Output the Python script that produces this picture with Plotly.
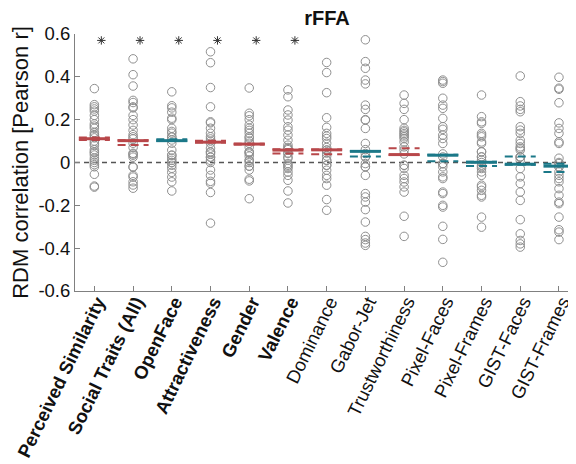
import plotly.graph_objects as go

categories = ["Perceived Similarity", "Social Traits (All)", "OpenFace", "Attractiveness",
              "Gender", "Valence", "Dominance", "Gabor-Jet", "Trustworthiness",
              "Pixel-Faces", "Pixel-Frames", "GIST-Faces", "GIST-Frames"]
bold = [1, 1, 1, 1, 1, 1, 0, 0, 0, 0, 0, 0, 0]
significant = [1, 1, 1, 1, 1, 1, 0, 0, 0, 0, 0, 0, 0]
color_group = ["r", "r", "t", "r", "r", "r", "r", "t", "r", "t", "t", "t", "t"]

mean_r = [0.111, 0.102, 0.102, 0.095, 0.086, 0.058, 0.059, 0.052, 0.037, 0.034, 0.001, -0.008, -0.017]
upper_r = [0.117, 0.104, 0.108, 0.102, 0.088, 0.062, 0.061, 0.054, 0.067, 0.036, 0.003, 0.028, -0.006]
lower_r = [0.105, 0.082, 0.100, 0.093, 0.084, 0.042, 0.039, 0.028, 0.035, 0.006, -0.016, -0.010, -0.044]

points = [
    [0.345, 0.27, 0.26, 0.25, 0.24, 0.22, 0.20, 0.17, 0.16, 0.14, 0.125, 0.115, 0.10, 0.09,
     0.08, 0.05, 0.035, 0.02, 0.01, 0.0, -0.01, -0.02, -0.055, -0.11, -0.115, 0.06, 0.13, 0.18, 0.045],
    [0.484, 0.41, 0.357, 0.29, 0.28, 0.26, 0.255, 0.22, 0.20, 0.175, 0.15, 0.13, 0.11, 0.09,
     0.04, 0.025, -0.02, 0.043, 0.034, -0.022, -0.06, -0.068, -0.09, -0.105, -0.12, 0.07, 0.12],
    [0.33, 0.265, 0.255, 0.235, 0.207, 0.20, 0.16, 0.137, 0.118, 0.09, 0.058, 0.034, 0.01, 0.0,
     0.034, 0.02, 0.0, -0.013, -0.027, -0.046, -0.068, -0.09, -0.133, 0.105, 0.12, 0.145],
    [0.517, 0.466, 0.35, 0.26, 0.19, 0.185, 0.16, 0.137, 0.12, 0.067, 0.048, 0.025, 0.0,
     0.05, 0.04, 0.025, 0.01, -0.035, -0.06, -0.088, -0.097, -0.14, -0.283, 0.1, 0.09, 0.11],
    [0.348, 0.23, 0.218, 0.20, 0.175, 0.16, 0.137, 0.114, 0.072, 0.048, 0.03, 0.01, -0.017,
     0.05, 0.043, 0.01, 0.0, -0.017, -0.035, -0.078, -0.086, -0.169, 0.09, 0.1, 0.12, 0.15],
    [0.339, 0.307, 0.245, 0.222, 0.198, 0.167, 0.151, 0.128, 0.104, 0.081, 0.065, 0.045, 0.019,
     -0.005, -0.02, 0.042, 0.026, -0.013, -0.028, -0.044, -0.06, -0.083, -0.133, -0.189, 0.06, 0.07],
    [0.467, 0.42, 0.326, 0.209, 0.164, 0.136, 0.123, 0.112, 0.058, 0.011, -0.013, 0.058, 0.044,
     0.01, -0.013, -0.036, -0.06, -0.075, -0.106, -0.173, -0.223, 0.07, 0.09, 0.03],
    [0.573, 0.471, 0.44, 0.385, 0.367, 0.268, 0.248, 0.20, 0.198, 0.159, 0.089, 0.042, 0.026,
     -0.02, 0.026, -0.005, -0.02, -0.06, -0.145, -0.161, -0.185, -0.22, -0.278, -0.345, -0.36,
     -0.376, -0.387, 0.06],
    [0.315, 0.276, 0.248, 0.20, 0.16, 0.143, 0.128, 0.112, 0.096, 0.073, -0.013, 0.058, -0.013,
     -0.028, -0.06, -0.075, -0.091, -0.114, -0.138, -0.251, -0.345, 0.12, 0.135, 0.15, 0.04],
    [0.385, 0.378, 0.37, 0.30, 0.268, 0.253, 0.206, 0.167, 0.155, 0.128, 0.112, 0.089, -0.005,
     -0.02, 0.026, -0.005, -0.044, -0.067, -0.075, -0.138, -0.145, -0.20, -0.208, -0.298, -0.359,
     -0.466, 0.04],
    [0.315, 0.214, 0.19, 0.183, 0.136, 0.128, 0.12, 0.096, 0.089, 0.05, 0.026, 0.011, -0.02,
     0.05, 0.026, -0.013, -0.028, -0.044, -0.06, -0.106, -0.114, -0.13, -0.153, -0.161, -0.255,
     -0.302, 0.0],
    [0.404, 0.284, 0.264, 0.248, 0.237, 0.167, 0.151, 0.136, 0.104, 0.089, 0.073, 0.066, 0.026,
     0.058, 0.026, 0.025, -0.028, -0.067, -0.098, -0.138, -0.177, -0.267, -0.333, -0.364, -0.38,
     -0.395, 0.01],
    [0.398, 0.347, 0.342, 0.279, 0.185, 0.159, 0.136, 0.096, 0.089, -0.005, -0.02, -0.02, -0.044,
     -0.06, -0.075, -0.09, -0.122, -0.153, -0.185, -0.192, -0.255, -0.314, -0.325, -0.36, 0.0, 0.02],
]

y_ticks = [-0.6, -0.4, -0.2, 0, 0.2, 0.4, 0.6]
y_tick_labels = ["-0.6", "-0.4", "-0.2", "0", "0.2", "0.4", "0.6"]
star_level = 0.57

RED = "#b8474a"
TEAL = "#1b7888"
colors = {"r": RED, "t": TEAL}
HALF = 0.4

# the page body adds an 8px offset; figure size/margins compensate for it
W, H, OFF = 568, 456, 8

fig = go.Figure()

n = len(categories)
fig.add_trace(go.Scatter(x=[0.5, n + 0.5], y=[0, 0], mode="lines",
                         line=dict(color="#555555", width=1.3, dash="5px,4px"),
                         hoverinfo="skip", showlegend=False))

for i, vals in enumerate(points):
    fig.add_trace(go.Scatter(
        x=[i + 1] * len(vals), y=vals, mode="markers",
        marker=dict(symbol="circle-open", size=8.5, color="#8f8f8f",
                    line=dict(width=1, color="#8f8f8f")),
        showlegend=False, hoverinfo="y"))

for key, col in colors.items():
    xs_m, ys_m, xs_u, ys_u, xs_l, ys_l = [], [], [], [], [], []
    for i in range(n):
        if color_group[i] != key:
            continue
        c = i + 1
        xs_m += [c - HALF, c + HALF, None]
        ys_m += [mean_r[i], mean_r[i], None]
        xs_u += [c - HALF, c + HALF, None]
        ys_u += [upper_r[i], upper_r[i], None]
        xs_l += [c - HALF, c + HALF, None]
        ys_l += [lower_r[i], lower_r[i], None]
    for xs, ys in ((xs_u, ys_u), (xs_l, ys_l)):
        fig.add_trace(go.Scatter(x=xs, y=ys, mode="lines",
                                 line=dict(color=col, width=2, dash="8px,5px"),
                                 showlegend=False, hoverinfo="skip"))
    fig.add_trace(go.Scatter(x=xs_m, y=ys_m, mode="lines",
                             line=dict(color=col, width=3),
                             showlegend=False, hoverinfo="skip"))

sx = [i + 1 + 0.18 for i in range(n) if significant[i]]
sy = [star_level for i in range(n) if significant[i]]
fig.add_trace(go.Scatter(x=sx, y=sy, mode="markers",
                         marker=dict(symbol="asterisk-open", size=7, color="#333333",
                                     line=dict(width=1, color="#333333")),
                         showlegend=False, hoverinfo="skip"))

tick_text = [f"<b>{c}</b>" if b else c for c, b in zip(categories, bold)]

fig.update_layout(
    width=W, height=H,
    margin=dict(l=75 - OFF, r=0, t=34 - OFF, b=173),
    plot_bgcolor="white", paper_bgcolor="white",
    font=dict(family="Liberation Sans, Arial, sans-serif", color="#111111"),
    title=dict(text="<b>rFFA</b>", font=dict(size=20, color="#111111"),
               xref="container", x=(327 - OFF) / W, xanchor="center",
               yref="container", y=1 - (18 - OFF) / H, yanchor="middle"),
    xaxis=dict(range=[0.5, 13.44], tickvals=list(range(1, n + 1)), ticktext=tick_text,
               tickangle=-64, tickfont=dict(size=18.5, color="#111111"),
               ticklabeloverflow="allow", ticklabelstandoff=-8, ticklabelshift=3,
               ticks="inside", ticklen=5, tickcolor="#808080",
               showline=True, linecolor="#808080", linewidth=1,
               showgrid=False, zeroline=False, automargin=False),
    yaxis=dict(range=[-0.6, 0.6], tickvals=y_ticks, ticktext=y_tick_labels,
               tickfont=dict(size=18.5, color="#111111"),
               ticks="inside", ticklen=5, tickcolor="#808080",
               showline=True, linecolor="#808080", linewidth=1,
               showgrid=False, zeroline=False, automargin=False,
               title=dict(text="RDM correlation [Pearson r]", font=dict(size=22, color="#111111"),
                          standoff=5)),
)

fig.write_html("out.html")
